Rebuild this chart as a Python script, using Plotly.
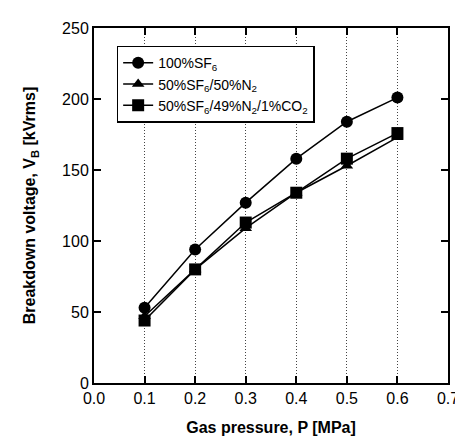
import plotly.graph_objects as go

pressure = [0.1, 0.2, 0.3, 0.4, 0.5, 0.6]
sf6_100 = [53, 94, 127, 158, 184, 201]
sf6_n2 = [47, 80, 109, 134, 153, 173]
sf6_n2_co2 = [44, 80, 113, 134, 158, 176]

names = ["100%SF<sub>6</sub>", "50%SF<sub>6</sub>/50%N<sub>2</sub>",
         "50%SF<sub>6</sub>/49%N<sub>2</sub>/1%CO<sub>2</sub>"]
x_ticks = [0.0, 0.1, 0.2, 0.3, 0.4, 0.5, 0.6, 0.7]
y_ticks = [0, 50, 100, 150, 200, 250]

FONT = "Liberation Sans, Arial, sans-serif"

fig = go.Figure()
series = [(sf6_100, "circle", 12), (sf6_n2, "triangle-up", 11), (sf6_n2_co2, "square", 12)]
for (vals, sym, sz), nm in zip(series, names):
    fig.add_trace(go.Scatter(
        x=pressure, y=vals, name=nm, mode="lines+markers",
        line=dict(color="black", width=1.5),
        marker=dict(symbol=sym, size=sz, color="black"),
    ))

fig.update_layout(
    width=463, height=438,
    margin=dict(l=86, r=18, t=16, b=63),
    paper_bgcolor="white", plot_bgcolor="white",
    font=dict(family=FONT, color="black", size=16),
    showlegend=True,
    legend=dict(
        x=0.064, y=0.95, xanchor="left", yanchor="top",
        bgcolor="white", bordercolor="black", borderwidth=1.5,
        font=dict(family=FONT, size=14, color="black"),
        tracegroupgap=0, itemwidth=30,
    ),
    xaxis=dict(
        range=[0, 0.7], tickvals=x_ticks, ticktext=[f"{v:.1f}" for v in x_ticks],
        showline=True, linecolor="black", linewidth=2, mirror="ticks",
        ticks="inside", ticklen=7, tickwidth=1.5, tickcolor="black",
        showgrid=True, gridcolor="#444", griddash="1px,2px", gridwidth=1,
        zeroline=False,
        title=dict(text="<b>Gas pressure, P [MPa]</b>", font=dict(size=16), standoff=16),
        tickfont=dict(size=16),
    ),
    yaxis=dict(
        range=[0, 250], tickvals=y_ticks,
        showline=True, linecolor="black", linewidth=2, mirror="ticks",
        ticks="inside", ticklen=7, tickwidth=1.5, tickcolor="black",
        showgrid=False, zeroline=False,
        title=dict(text="<b>Breakdown voltage, V<sub>B</sub> [kVrms]</b>", font=dict(size=16), standoff=22),
        tickfont=dict(size=16),
    ),
)

fig.write_html("out.html")
